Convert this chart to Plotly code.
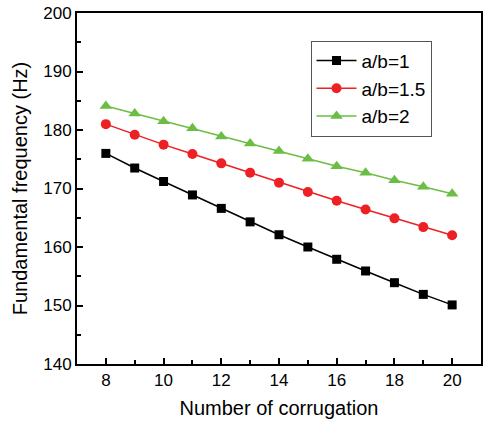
import plotly.graph_objects as go

corrugations = [8, 9, 10, 11, 12, 13, 14, 15, 16, 17, 18, 19, 20]
freq_ab1 = [176.0, 173.5, 171.2, 168.9, 166.6, 164.3, 162.1, 160.0, 157.9, 155.9, 153.9, 151.9, 150.1]
freq_ab15 = [181.0, 179.2, 177.5, 175.9, 174.3, 172.7, 171.0, 169.4, 167.9, 166.4, 164.9, 163.4, 162.0]
freq_ab2 = [184.1, 182.8, 181.5, 180.3, 178.9, 177.7, 176.4, 175.1, 173.8, 172.7, 171.4, 170.3, 169.1]
labels = ["a/b=1", "a/b=1.5", "a/b=2"]

FONT = "Arial, Liberation Sans"

fig = go.Figure()
fig.add_trace(go.Scatter(x=corrugations, y=freq_ab1, name=labels[0], mode="lines+markers",
                         line=dict(color="black", width=1.5),
                         marker=dict(symbol="square", size=9, color="black")))
fig.add_trace(go.Scatter(x=corrugations, y=freq_ab15, name=labels[1], mode="lines+markers",
                         line=dict(color="#ed2024", width=1.5),
                         marker=dict(symbol="circle", size=10, color="#ed2024")))
fig.add_trace(go.Scatter(x=corrugations, y=freq_ab2, name=labels[2], mode="lines+markers",
                         line=dict(color="#6cbd45", width=1.5),
                         marker=dict(symbol="triangle-up", size=11, color="#6cbd45")))

axis_common = dict(showline=True, linecolor="black", linewidth=1.8, mirror=True,
                   ticks="inside", ticklen=6, tickwidth=1.5, tickcolor="black",
                   showgrid=False, zeroline=False, ticklabeloverflow="allow",
                   automargin=False,
                   tickfont=dict(family=FONT, size=17, color="black"),
                   minor=dict(ticks="inside", ticklen=4, tickwidth=1.5, tickcolor="black"))

fig.update_xaxes(range=[7, 21], tickvals=[8, 10, 12, 14, 16, 18, 20],
                 minor_dtick=1, minor_tick0=7,
                 title=dict(text="Number of corrugation", standoff=12,
                            font=dict(family=FONT, size=20, color="black")),
                 **axis_common)
fig.update_yaxes(range=[140, 200], dtick=10, minor_dtick=5,
                 title=dict(text="Fundamental frequency (Hz)", standoff=10,
                            font=dict(family=FONT, size=20, color="black")),
                 **axis_common)

fig.update_layout(
    width=484, height=426,
    margin=dict(l=77, r=3, t=13, b=62),
    paper_bgcolor="white", plot_bgcolor="white",
    legend=dict(x=0.578, y=0.921, xanchor="left", yanchor="top",
                bordercolor="#555555", borderwidth=1, bgcolor="white",
                font=dict(family=FONT, size=19, color="black"),
                tracegroupgap=0, itemwidth=40),
    showlegend=True,
)

fig.write_html("out.html", config={"displayModeBar": False},
               post_script="document.body.style.margin='0';")
